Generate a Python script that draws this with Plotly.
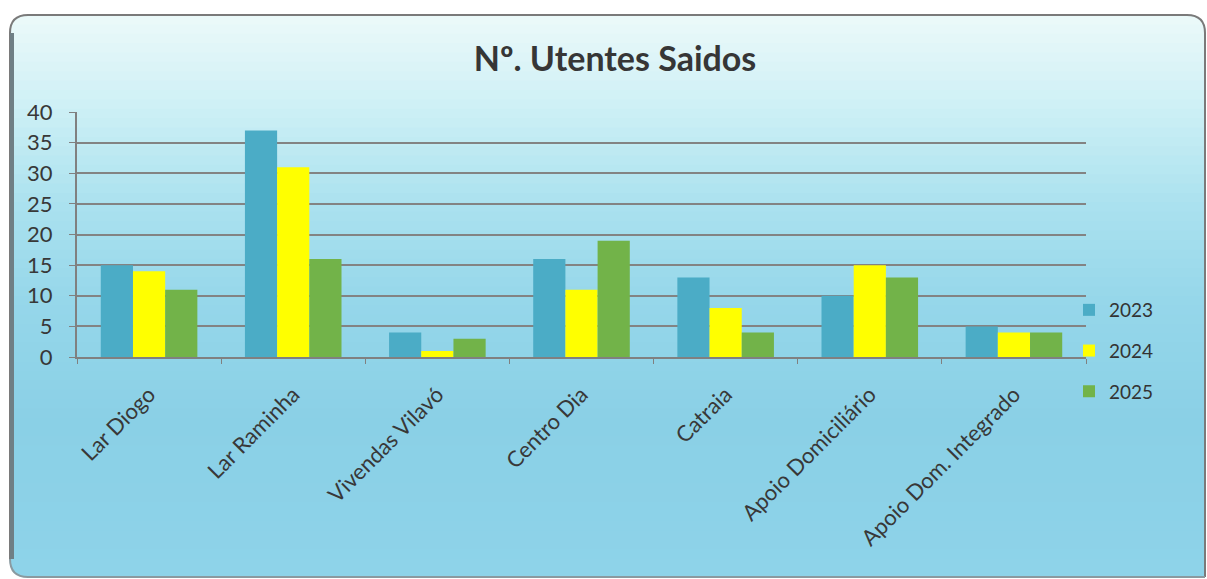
import plotly.graph_objects as go

categories = ["Lar Diogo", "Lar Raminha", "Vivendas Vilavó", "Centro Dia",
              "Catraia", "Apoio Domiciliário", "Apoio Dom. Integrado"]
series_names = ["2023", "2024", "2025"]
values_2023 = [15, 37, 4, 16, 13, 10, 5]
values_2024 = [14, 31, 1, 11, 8, 15, 4]
values_2025 = [11, 16, 3, 19, 4, 13, 4]
y_ticks = [0, 5, 10, 15, 20, 25, 30, 35, 40]

colors = ["#4BACC6", "#FFFF00", "#72B349"]

W, H = 1207, 579
L, R, T, B = 77, 1086, 112, 357  # plot area in pixels


def px_x(px):
    return (px - L) / (R - L)


def px_y(py):
    return (B - py) / (B - T)


fig = go.Figure()
for name, vals, col in zip(series_names, [values_2023, values_2024, values_2025], colors):
    fig.add_trace(go.Bar(x=categories, y=vals, name=name, marker_color=col,
                         marker_line_width=0, legendgroup=name))

shapes = []
# vertical gradient background
stops = [(15, (236, 249, 249)), (100, (208, 241, 246)), (200, (172, 226, 239)),
         (300, (150, 215, 234)), (420, (138, 208, 230)), (579, (142, 211, 233))]


def color_at(py):
    for (y0, c0), (y1, c1) in zip(stops[:-1], stops[1:]):
        if y0 <= py <= y1:
            t = (py - y0) / (y1 - y0)
            return tuple(round(a + (b - a) * t) for a, b in zip(c0, c1))
    return stops[-1][1]


fx0, fx1, fy0, fy1 = 10, 1205, 15, 577
n = 60
step = (fy1 - fy0) / n
for i in range(n):
    y0 = fy0 + i * step
    y1 = y0 + step + 0.8
    c = color_at(y0 + step / 2)
    shapes.append(dict(type="rect", xref="paper", yref="paper", layer="below",
                       x0=px_x(fx0), x1=px_x(fx1), y0=px_y(y0), y1=px_y(min(y1, fy1)),
                       fillcolor=f"rgb({c[0]},{c[1]},{c[2]})", line_width=0))

r = 18


def p(px, py):
    return f"{px_x(px):.5f},{px_y(py):.5f}"


# white corner masks
masks = [
    f"M{p(fx0, fy0)} L{p(fx0 + r, fy0)} Q{p(fx0, fy0)} {p(fx0, fy0 + r)} Z",
    f"M{p(fx1, fy0)} L{p(fx1 - r, fy0)} Q{p(fx1, fy0)} {p(fx1, fy0 + r)} Z",
    f"M{p(fx0, fy1)} L{p(fx0 + r, fy1)} Q{p(fx0, fy1)} {p(fx0, fy1 - r)} Z",
]
for m in masks:
    shapes.append(dict(type="path", xref="paper", yref="paper", layer="below",
                       path=m, fillcolor="white", line_width=0))

border = (f"M{p(fx0, fy1 - r)} L{p(fx0, fy0 + r)} Q{p(fx0, fy0)} {p(fx0 + r, fy0)} "
          f"L{p(fx1 - r, fy0)} Q{p(fx1, fy0)} {p(fx1, fy0 + r)} L{p(fx1, fy1)}")
shapes.append(dict(type="path", xref="paper", yref="paper", layer="below",
                   path=border, line=dict(color="#7a7a7a", width=2)))
# left shadow edge
shapes.append(dict(type="path", xref="paper", yref="paper", layer="below",
                   path=f"M{p(fx0 + 2, fy1 - r)} L{p(fx0 + 2, fy0 + r)}",
                   line=dict(color="#6f7f85", width=4)))
bottom = f"M{p(fx0, fy1 - r)} Q{p(fx0, fy1)} {p(fx0 + r, fy1)} L{p(fx1, fy1)}"
shapes.append(dict(type="path", xref="paper", yref="paper", layer="below",
                   path=bottom, line=dict(color="#8a9aa0", width=2)))

font_family = "Lato, 'Open Sans', sans-serif"

fig.update_layout(
    width=W, height=H,
    margin=dict(l=L, r=W - R, t=T, b=H - B, autoexpand=False),
    paper_bgcolor="white",
    plot_bgcolor="white",
    barmode="group",
    bargap=0.33,
    bargroupgap=0,
    shapes=shapes,
    title=dict(text="<b>Nº. Utentes Saidos</b>", x=px_x(615), xref="paper", xanchor="center",
               y=1 - 59 / H, yanchor="middle",
               font=dict(family=font_family, size=34, color="#363636")),
    legend=dict(x=px_x(1069), xanchor="left", y=px_y(291), yanchor="top",
                bgcolor="rgba(0,0,0,0)", tracegroupgap=13,
                font=dict(family=font_family, size=19, color="#333333"),
                itemwidth=30),
    font=dict(family=font_family, color="#383838"),
)

fig.update_xaxes(
    type="category", tickangle=-45, tickson="boundaries", ticks="outside", ticklen=5,
    tickcolor="#808080", showline=True, linecolor="#808080", linewidth=2,
    tickfont=dict(family=font_family, size=22, color="#383838"),
    ticklabelstandoff=14,
    showgrid=False,
)
fig.update_yaxes(
    range=[0, 40], tickvals=y_ticks, ticks="outside", ticklen=6, tickcolor="#808080",
    showline=True, linecolor="#808080", linewidth=2,
    gridcolor="#838383", gridwidth=2, zeroline=False,
    ticklabelstandoff=12,
    tickfont=dict(family=font_family, size=22, color="#383838"),
)

fig.write_html("out.html", config={"displayModeBar": False},
               post_script="document.body.style.margin='0';")
